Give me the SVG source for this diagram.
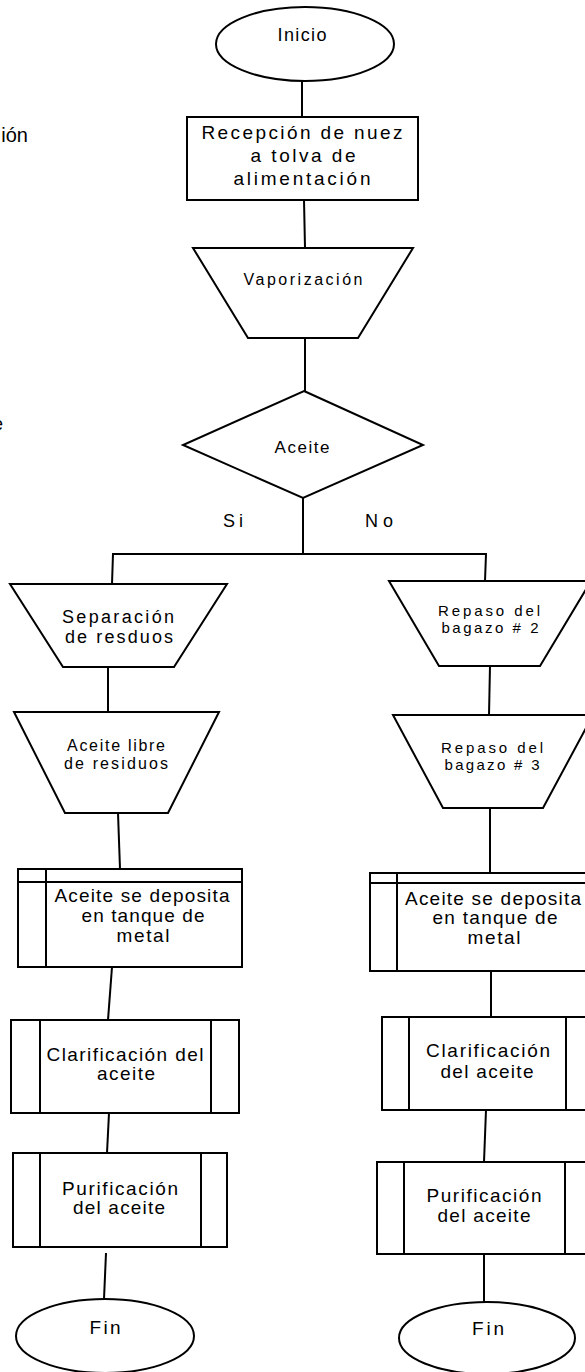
<svg xmlns="http://www.w3.org/2000/svg" width="585" height="1372" viewBox="0 0 585 1372">
<style>
.s{fill:#fff;stroke:#000;stroke-width:2}
.l{fill:none;stroke:#000;stroke-width:2}
text{font-family:"Liberation Sans",Arial,sans-serif;fill:#000;text-anchor:middle}
.f15{font-size:15px}.f16{font-size:16px}.f17{font-size:17px}.f18{font-size:18px}.f19{font-size:19px}.f20{font-size:20px}
</style>
<rect width="585" height="1372" fill="#fff"/>
<text class="f20" x="28" y="142" style="text-anchor:end">ión</text>
<text class="f18" x="3" y="430" style="text-anchor:end">e</text>
<g id="connectors">
<line class="l" x1="302" y1="81" x2="302" y2="117"/>
<line class="l" x1="304" y1="200" x2="305" y2="248"/>
<line class="l" x1="305" y1="338" x2="305" y2="391"/>
<line class="l" x1="303" y1="498" x2="303" y2="554"/>
<polyline class="l" points="112,584 113,554 486,554 485,581"/>
<line class="l" x1="108" y1="667" x2="108" y2="712"/>
<line class="l" x1="490" y1="666" x2="489" y2="715"/>
<line class="l" x1="118" y1="813" x2="120" y2="869"/>
<line class="l" x1="490" y1="808" x2="490" y2="873"/>
<line class="l" x1="112" y1="967" x2="108" y2="1020"/>
<line class="l" x1="491" y1="971" x2="491" y2="1017"/>
<line class="l" x1="109" y1="1113" x2="107" y2="1153"/>
<line class="l" x1="486" y1="1110" x2="484" y2="1162"/>
<line class="l" x1="106" y1="1253" x2="104" y2="1299"/>
<line class="l" x1="484" y1="1254" x2="484" y2="1302"/>
</g>
<g id="inicio">
<ellipse class="s" cx="305" cy="44" rx="89" ry="37"/>
<text class="f18" x="302" y="41" textLength="49" lengthAdjust="spacing">Inicio</text>
</g>
<g id="recepcion">
<rect class="s" x="187" y="117" width="231" height="83"/>
<text class="f19" x="302" y="139" textLength="201" lengthAdjust="spacing">Recepción de nuez</text>
<text class="f19" x="303" y="162" textLength="105" lengthAdjust="spacing">a tolva de</text>
<text class="f19" x="302" y="185" textLength="137" lengthAdjust="spacing">alimentación</text>
</g>
<g id="vaporizacion">
<polygon class="s" points="193,248 413,248 358,338 248,338"/>
<text class="f16" x="303" y="285" textLength="119" lengthAdjust="spacing">Vaporización</text>
</g>
<g id="aceite-decision">
<polygon class="s" points="304,391 423,445 303,498 183,445"/>
<text class="f17" x="302" y="453" textLength="55" lengthAdjust="spacing">Aceite</text>
</g>
<g id="labels">
<text class="f18" x="233" y="527" textLength="20" lengthAdjust="spacing">Si</text>
<text class="f18" x="379" y="527" textLength="28" lengthAdjust="spacing">No</text>
</g>
<g id="separacion">
<polygon class="s" points="10,584 227,584 174,667 63,667"/>
<text class="f18" x="118" y="623" textLength="112" lengthAdjust="spacing">Separación</text>
<text class="f18" x="119" y="643" textLength="108" lengthAdjust="spacing">de resduos</text>
</g>
<g id="repaso2">
<polygon class="s" points="389,581 591,581 540,666 439,666"/>
<text class="f15" x="489" y="616" textLength="102" lengthAdjust="spacing">Repaso del</text>
<text class="f15" x="490" y="633" textLength="97" lengthAdjust="spacing">bagazo # 2</text>
</g>
<g id="aceite-libre">
<polygon class="s" points="14,712 219,712 168,813 65,813"/>
<text class="f16" x="116" y="751" textLength="98" lengthAdjust="spacing">Aceite libre</text>
<text class="f16" x="116" y="769" textLength="104" lengthAdjust="spacing">de residuos</text>
</g>
<g id="repaso3">
<polygon class="s" points="393,715 593,715 543,808 443,808"/>
<text class="f15" x="492" y="753" textLength="102" lengthAdjust="spacing">Repaso del</text>
<text class="f15" x="492" y="770" textLength="95" lengthAdjust="spacing">bagazo # 3</text>
</g>
<g id="deposito-izq">
<rect class="s" x="18" y="869" width="224" height="98"/>
<line class="l" x1="46" y1="869" x2="46" y2="967"/>
<line class="l" x1="18" y1="882" x2="242" y2="882"/>
<text class="f19" x="142" y="902" textLength="175" lengthAdjust="spacing">Aceite se deposita</text>
<text class="f19" x="143" y="922" textLength="123" lengthAdjust="spacing">en tanque de</text>
<text class="f19" x="143" y="942" textLength="53" lengthAdjust="spacing">metal</text>
</g>
<g id="deposito-der">
<rect class="s" x="370" y="873" width="224" height="98"/>
<line class="l" x1="397" y1="873" x2="397" y2="971"/>
<line class="l" x1="370" y1="883" x2="594" y2="883"/>
<text class="f19" x="493" y="905" textLength="176" lengthAdjust="spacing">Aceite se deposita</text>
<text class="f19" x="495" y="924" textLength="125" lengthAdjust="spacing">en tanque de</text>
<text class="f19" x="494" y="944" textLength="53" lengthAdjust="spacing">metal</text>
</g>
<g id="clarificacion-izq">
<rect class="s" x="11" y="1020" width="228" height="93"/>
<line class="l" x1="40" y1="1020" x2="40" y2="1113"/>
<line class="l" x1="211" y1="1020" x2="211" y2="1113"/>
<text class="f19" x="125" y="1061" textLength="157" lengthAdjust="spacing">Clarificación del</text>
<text class="f19" x="126" y="1080" textLength="58" lengthAdjust="spacing">aceite</text>
</g>
<g id="clarificacion-der">
<rect class="s" x="382" y="1017" width="211" height="93"/>
<line class="l" x1="409" y1="1017" x2="409" y2="1110"/>
<line class="l" x1="566" y1="1017" x2="566" y2="1110"/>
<text class="f19" x="488" y="1057" textLength="124" lengthAdjust="spacing">Clarificación</text>
<text class="f19" x="487" y="1078" textLength="93" lengthAdjust="spacing">del aceite</text>
</g>
<g id="purificacion-izq">
<rect class="s" x="13" y="1153" width="214" height="94"/>
<line class="l" x1="40" y1="1153" x2="40" y2="1247"/>
<line class="l" x1="201" y1="1153" x2="201" y2="1247"/>
<text class="f19" x="120" y="1195" textLength="116" lengthAdjust="spacing">Purificación</text>
<text class="f19" x="119" y="1214" textLength="92" lengthAdjust="spacing">del aceite</text>
</g>
<g id="purificacion-der">
<rect class="s" x="377" y="1162" width="215" height="92"/>
<line class="l" x1="404" y1="1162" x2="404" y2="1254"/>
<line class="l" x1="565" y1="1162" x2="565" y2="1254"/>
<text class="f19" x="484" y="1202" textLength="115" lengthAdjust="spacing">Purificación</text>
<text class="f19" x="484" y="1222" textLength="93" lengthAdjust="spacing">del aceite</text>
</g>
<g id="fin-izq">
<ellipse class="s" cx="105" cy="1336" rx="89" ry="37"/>
<text class="f19" x="105" y="1334" textLength="31" lengthAdjust="spacing">Fin</text>
</g>
<g id="fin-der">
<ellipse class="s" cx="487" cy="1338" rx="88" ry="36"/>
<text class="f19" x="488" y="1335" textLength="32" lengthAdjust="spacing">Fin</text>
</g>
</svg>
